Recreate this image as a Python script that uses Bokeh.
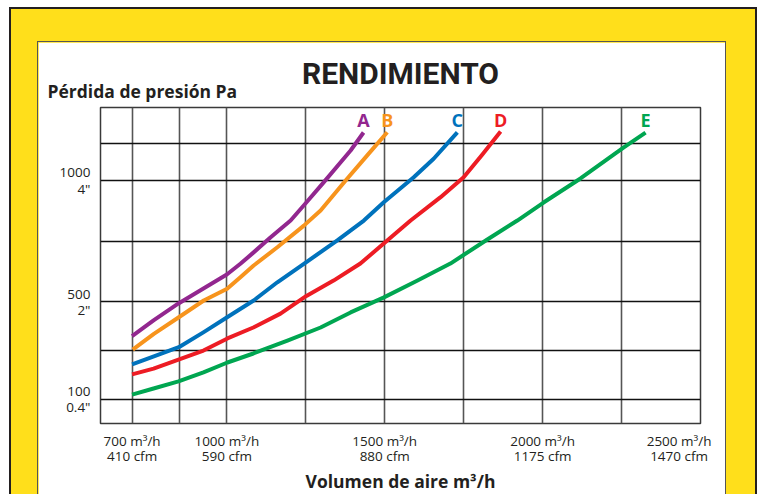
from bokeh.plotting import figure
from bokeh.models import Range1d, FixedTicker, Title, ColumnDataSource
from bokeh.layouts import column
from bokeh.embed import file_html
from bokeh.resources import INLINE
from bokeh.core.properties import value

# ---- data (air flow m3/h vs pressure loss Pa) ----
series_names = ["A", "B", "C", "D", "E"]
series_colors = ["#92278F", "#F7941D", "#0072BC", "#ED1C24", "#00A651"]

a_flow = [700, 768, 847, 926, 1000, 1043, 1084, 1138, 1202, 1249, 1306, 1392, 1433]
a_loss = [359, 424, 494, 555, 613, 657, 703, 765, 835, 905, 991, 1123, 1197]

b_flow = [702, 769, 848, 927, 1001, 1043, 1085, 1160, 1244, 1297, 1381, 1444, 1508]
b_loss = [304, 369, 437, 506, 554, 602, 650, 725, 814, 876, 1007, 1102, 1198]

c_flow = [700, 769, 848, 927, 1001, 1085, 1160, 1244, 1350, 1434, 1497, 1592, 1655, 1730]
c_loss = [243, 276, 314, 376, 437, 506, 581, 657, 753, 835, 910, 1013, 1089, 1198]

d_flow = [700, 768, 847, 926, 1002, 1084, 1170, 1252, 1338, 1423, 1508, 1582, 1677, 1750, 1808, 1867]
d_loss = [202, 226, 263, 300, 350, 395, 452, 525, 588, 658, 753, 835, 931, 1013, 1105, 1201]

e_flow = [700, 768, 847, 926, 1002, 1084, 1192, 1297, 1392, 1496, 1604, 1708, 1825, 1920, 2003, 2120, 2256, 2326]
e_loss = [119, 144, 173, 210, 251, 288, 341, 395, 457, 518, 588, 658, 757, 835, 909, 1008, 1135, 1197]

x_ticks = [700, 1000, 1500, 2000, 2500]
x_tick_m3h = ["700 m³/h", "1000 m³/h", "1500 m³/h", "2000 m³/h", "2500 m³/h"]
x_tick_cfm = ["410 cfm", "590 cfm", "880 cfm", "1175 cfm", "1470 cfm"]
y_ticks = [100, 500, 1000]
y_tick_pa = ["100", "500", "1000"]
y_tick_in = ['0.4"', '2"', '4"']
x_grid = [700, 850, 1000, 1250, 1500, 1750, 2000, 2250]
y_grid = [100, 300, 500, 750, 1000, 1150]
label_level = 1250

FONT = "Open Sans"
INK = "#231F20"

p = figure(width=689, height=453, x_range=Range1d(600, 2500), y_range=Range1d(0, 1300),
           output_backend="svg", toolbar_location=None, title=None,
           min_border_left=62, min_border_right=27, min_border_top=65, min_border_bottom=72)
p.background_fill_color = "white"
p.border_fill_color = "white"
p.outline_line_color = "#3a3a3a"
p.outline_line_width = 1.5

p.xgrid.ticker = FixedTicker(ticks=x_grid)
p.xgrid.grid_line_color = "#555555"
p.xgrid.grid_line_width = 1.6
p.ygrid.ticker = FixedTicker(ticks=y_grid)
p.ygrid.grid_line_color = "#111111"
p.ygrid.grid_line_width = 1.3

pad = "\u00a0" * 4
x_labels = {}
for i, (t, a, b) in enumerate(zip(x_ticks, x_tick_m3h, x_tick_cfm)):
    if i == len(x_ticks) - 1:
        x_labels[t] = a + pad + "\n" + b + pad
    else:
        x_labels[t] = a + "\n" + b
p.xaxis.ticker = FixedTicker(ticks=x_ticks)
p.xaxis.major_label_overrides = x_labels
p.yaxis.ticker = FixedTicker(ticks=y_ticks)
p.yaxis.major_label_overrides = {t: a + "\n" + b for t, a, b in zip(y_ticks, y_tick_pa, y_tick_in)}

for ax in (p.xaxis[0], p.yaxis[0]):
    ax.axis_line_color = None
    ax.major_tick_line_color = None
    ax.minor_tick_line_color = None
    ax.major_label_text_font = FONT
    ax.major_label_text_font_size = "13.5px"
    ax.major_label_text_color = INK
p.xaxis.major_label_text_line_height = 0.85
p.yaxis.major_label_text_line_height = 0.9
p.xaxis.major_label_standoff = 2
p.yaxis.major_label_standoff = 4

p.xaxis.axis_label = "Volumen de aire m³/h"
p.xaxis.axis_label_text_font = FONT
p.xaxis.axis_label_text_font_size = "17.5px"
p.xaxis.axis_label_text_font_style = "bold"
p.xaxis.axis_label_text_color = INK
p.xaxis.axis_label_standoff = 1

p.add_layout(Title(text="Pérdida de presión Pa", align="left", offset=-53,
                   text_font=FONT, text_font_size="17.5px", text_font_style="bold",
                   text_color=INK, standoff=10), "above")
p.add_layout(Title(text="RENDIMIENTO", align="center",
                   text_font="Roboto", text_font_size="30px", text_font_style="bold",
                   text_color=INK, standoff=-38), "above")

flows = [a_flow, b_flow, c_flow, d_flow, e_flow]
losses = [a_loss, b_loss, c_loss, d_loss, e_loss]
for fx, ly, col in zip(flows, losses, series_colors):
    p.line(fx, ly, line_color=col, line_width=4, line_join="round")

lab = ColumnDataSource(dict(x=[f[-1] for f in flows], y=[label_level] * len(flows),
                            text=series_names, color=series_colors))
p.text(x="x", y="y", text="text", text_color="color", source=lab,
       text_font=value(FONT), text_font_style="bold", text_font_size="18px",
       text_align="center", text_baseline="middle")

p.margin = (32, 29, 0, 26)
p.styles = {"border": "1px solid #555555", "border-bottom": "none"}

outer = column(p, styles={"background-color": "#FFDF1B",
                          "border": "2px solid #231F20", "border-bottom": "none"})
outer.margin = (7, 0, 0, 9)

open("out.html", "w").write(file_html(outer, INLINE))
